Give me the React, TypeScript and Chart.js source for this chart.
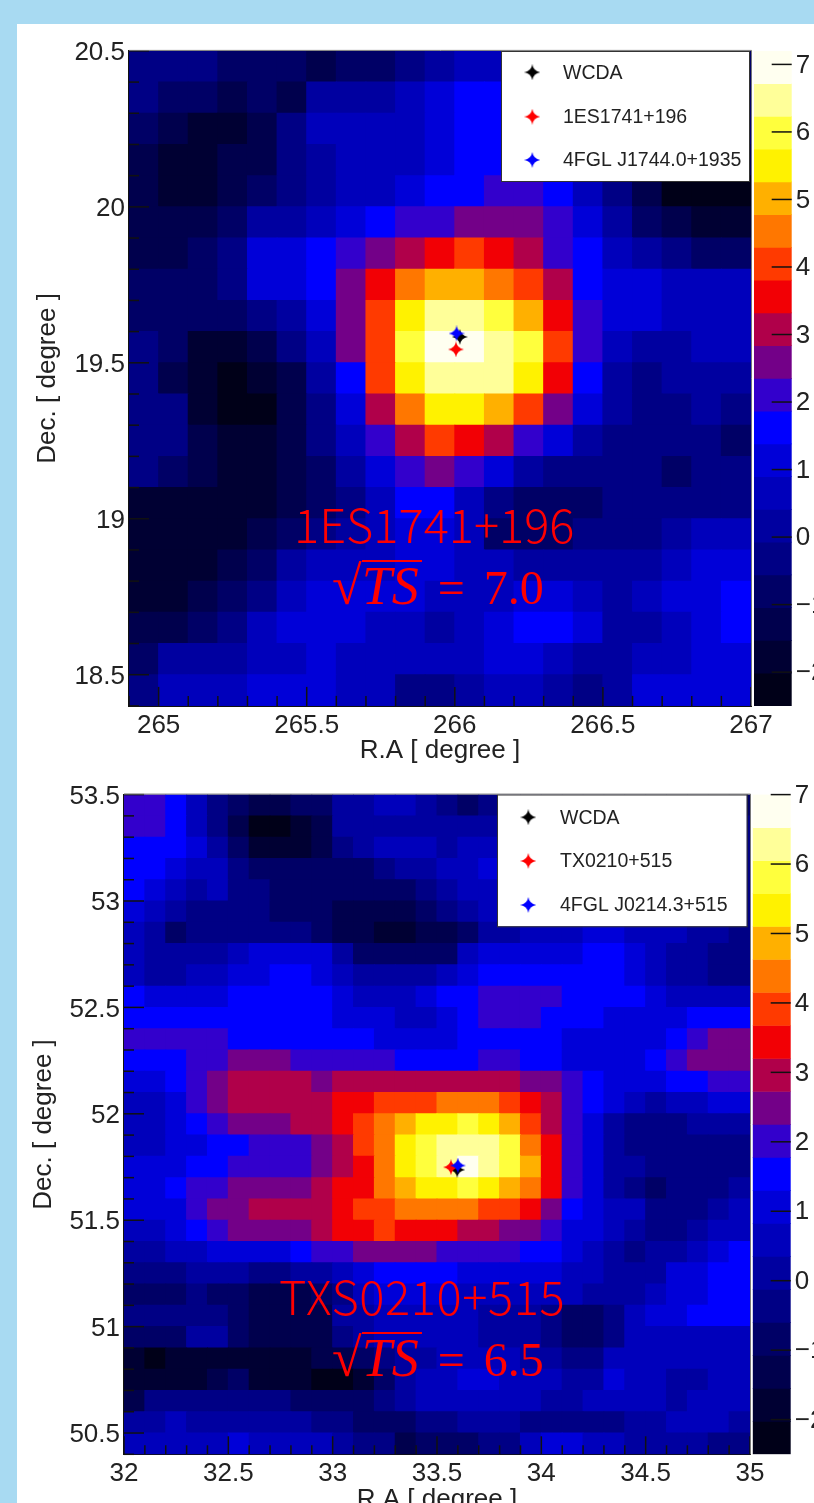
import React, { useEffect, useRef } from "react";
import { Chart, registerables } from "chart.js";

Chart.register(...registerables);

const levelColors = ["#000018","#000033","#00004d","#000066","#000085","#0000a0","#0000bb","#0000d8","#0000ff","#3300cc","#730088","#b0004a","#f20005","#ff3a00","#ff7700","#ffb000","#fff200","#ffff3d","#ffff99","#fffff0"];

// colour-bin index of every map cell, top row first, left column first
const upperBins = [
[4,4,4,3,3,3,2,3,3,4,5,6,6,6,5,5,4,4,4,3,3],
[4,3,3,2,3,2,5,5,5,6,7,8,8,7,6,5,4,4,3,3,3],
[3,2,1,1,2,4,6,6,6,6,7,8,8,7,6,5,4,4,3,3,3],
[2,1,1,2,2,4,5,6,6,6,7,8,8,8,7,6,4,3,2,2,2],
[2,1,1,2,3,4,5,6,6,7,8,8,9,9,8,6,4,2,0,0,0],
[2,2,2,3,5,5,6,7,8,9,9,10,10,10,9,7,5,3,2,1,1],
[2,2,3,4,7,7,8,9,10,11,12,13,12,11,9,8,6,5,4,3,3],
[3,3,3,4,7,7,8,10,12,14,15,15,14,13,11,8,7,7,6,6,6],
[3,3,3,3,4,5,7,10,13,16,18,18,17,15,12,9,7,7,6,6,6],
[4,3,1,1,2,4,6,10,13,17,19,19,18,17,13,9,6,5,5,6,6],
[4,2,1,0,1,2,5,8,13,16,18,18,18,16,12,8,5,4,5,5,5],
[4,4,1,0,0,2,4,7,11,14,16,16,15,13,10,7,5,4,4,5,4],
[4,4,2,1,1,2,4,6,9,11,13,12,11,9,7,5,4,4,4,4,3],
[4,3,2,1,1,2,3,5,7,9,10,9,7,5,4,4,4,4,3,4,4],
[1,1,1,1,1,2,3,4,6,8,8,6,4,3,3,3,4,4,4,4,4],
[1,1,1,1,2,3,4,5,6,7,7,6,3,3,3,4,4,4,5,6,6],
[1,1,1,2,3,5,6,6,6,7,7,6,6,5,5,5,5,5,6,7,7],
[1,1,2,3,4,6,7,7,7,7,6,6,6,7,7,6,5,6,7,7,8],
[2,2,3,4,6,7,7,7,6,6,5,6,7,8,8,7,5,5,6,7,8],
[3,5,5,5,6,6,7,6,6,6,6,6,7,7,6,5,5,6,6,7,7],
[4,6,6,6,7,7,7,6,6,4,4,5,6,6,5,4,5,7,7,7,7],
];

const lowerBins = [
[9,9,8,6,4,3,2,2,3,3,5,5,6,6,5,4,3,4,4,4,4,4,4,4,4,4,4,4,3,3],
[9,9,8,6,4,2,0,0,1,2,5,5,5,5,5,5,5,5,5,5,5,5,5,5,5,5,4,4,4,4],
[8,8,8,7,5,3,1,1,1,2,4,5,6,6,6,5,6,6,6,6,6,6,6,6,6,5,5,4,4,4],
[8,8,7,6,6,4,3,3,3,3,3,3,4,5,5,6,6,7,7,7,7,6,6,6,6,6,5,5,4,4],
[8,7,6,5,6,4,4,3,3,3,3,3,3,3,4,5,6,6,6,6,6,6,6,6,6,6,5,5,4,4],
[7,6,5,4,4,4,4,3,3,3,2,2,2,2,3,4,5,6,6,6,6,6,6,6,6,6,5,5,4,4],
[6,5,3,4,4,4,4,4,4,3,2,2,1,1,2,2,3,5,5,6,6,6,7,7,6,6,6,5,5,4],
[6,5,5,5,5,6,7,7,7,7,5,3,3,3,3,3,6,7,7,7,7,7,8,8,7,6,5,5,4,4],
[6,5,5,6,6,7,7,8,8,7,6,5,5,5,5,6,7,8,8,8,8,8,8,8,7,6,5,5,4,4],
[8,7,7,7,7,8,8,8,8,8,7,6,6,6,7,8,8,9,9,9,9,8,8,8,8,7,6,6,6,6],
[8,8,8,8,8,8,8,8,8,8,7,7,7,6,6,7,8,9,9,9,8,8,8,7,7,7,7,8,8,8],
[9,9,9,9,9,8,8,8,8,8,8,8,7,7,7,7,8,8,8,8,8,7,7,7,7,7,8,9,10,10],
[8,8,8,9,9,10,10,10,9,9,9,9,9,8,8,8,8,9,9,8,8,7,7,7,7,8,9,10,10,10],
[7,7,8,9,10,11,11,11,11,10,11,11,11,11,11,11,11,11,11,10,10,9,8,7,7,7,8,8,9,9],
[6,6,7,9,10,11,11,11,11,11,12,12,13,13,13,14,14,14,13,12,11,9,8,7,6,5,6,6,7,7],
[6,6,7,8,9,10,10,10,11,11,12,13,14,15,16,16,17,16,15,13,11,9,7,5,4,4,4,5,5,5],
[6,6,7,7,8,8,9,9,9,10,11,13,14,16,17,18,18,18,17,14,12,9,7,5,4,4,4,4,4,4],
[7,7,7,8,8,9,9,9,9,10,11,12,14,16,17,18,19,18,17,15,12,9,7,5,5,4,4,4,4,4],
[7,7,8,9,9,10,10,10,10,11,12,12,14,15,16,16,17,16,15,14,12,9,7,5,4,3,4,4,4,5],
[7,7,7,9,10,10,11,11,11,11,12,13,13,14,14,14,14,13,13,12,10,8,7,6,6,4,4,4,5,6],
[6,6,7,8,9,10,10,10,10,11,12,12,13,12,12,12,11,11,10,10,9,7,7,6,5,4,4,5,6,6],
[5,5,6,6,7,7,7,7,8,9,9,10,10,10,10,9,9,9,9,8,8,7,6,5,4,5,5,6,7,8],
[4,4,4,5,5,5,4,4,5,5,6,7,8,8,8,8,7,7,7,7,7,6,6,5,5,5,7,7,8,8],
[3,3,3,4,3,3,2,2,2,3,4,6,7,7,7,7,6,6,6,6,6,6,5,5,5,6,7,7,8,8],
[4,4,4,4,4,3,2,2,2,2,5,5,6,6,6,6,6,5,5,5,4,3,3,4,6,7,7,8,8,8],
[3,3,3,5,5,3,2,2,2,2,4,5,6,6,6,6,6,5,5,5,4,3,3,4,6,6,6,6,6,6],
[1,0,1,1,1,1,1,1,1,2,2,3,4,5,5,6,6,6,6,5,5,4,4,6,6,6,6,6,6,6],
[1,1,1,1,2,3,1,1,1,0,0,1,3,5,6,6,7,7,6,6,6,5,5,7,6,6,5,5,6,6],
[2,4,4,4,4,4,4,4,3,3,3,3,4,5,6,6,6,6,6,6,5,5,6,6,6,6,5,6,6,6],
[5,5,6,5,5,5,5,5,5,4,4,3,3,3,4,4,5,5,5,4,4,4,4,4,5,5,6,6,6,5],
[6,6,6,6,6,7,6,6,6,6,5,4,4,2,3,3,3,4,4,6,7,7,6,6,5,5,5,5,4,4],
];

const upperRange = { xMin: 264.9, xMax: 267, yMin: 18.4, yMax: 20.5, zMin: -2.5, zMax: 7.2 };
const lowerRange = { xMin: 32, xMax: 35, yMin: 50.4, yMax: 53.5, zMin: -2.5, zMax: 7.0 };

const upperLegend = ["WCDA", "1ES1741+196", "4FGL J1744.0+1935"];
const lowerLegend = ["WCDA", "TX0210+515", "4FGL J0214.3+515"];
const upperStars = [[266.017, 19.583], [266.004, 19.543], [266.006, 19.594]];
const lowerStars = [[33.597, 51.737], [33.567, 51.749], [33.6, 51.757]];
const starColors = ["#000000", "#ff0000", "#0000ff"];

const FONT = '"Liberation Sans", Arial, sans-serif';
const INK = "#222222";

function makeStar(color: string) {
  const cv = document.createElement("canvas");
  cv.width = 16;
  cv.height = 16;
  const c = cv.getContext("2d")!;
  const m = 8, k = 1.1;
  c.fillStyle = color;
  c.beginPath();
  c.moveTo(m, 0);
  c.quadraticCurveTo(m + k, m - k, 16, m);
  c.quadraticCurveTo(m + k, m + k, m, 16);
  c.quadraticCurveTo(m - k, m + k, 0, m);
  c.quadraticCurveTo(m - k, m - k, m, 0);
  c.closePath();
  c.fill();
  return cv;
}

function drawInnerTicks(chart: any, axisId: string, side: string, major: number, minor: number) {
  const sc = chart.scales[axisId];
  const a = chart.chartArea;
  const c = chart.ctx;
  c.save();
  c.strokeStyle = "#111111";
  c.lineWidth = 1.5;
  sc.ticks.forEach((t: any) => {
    const p = sc.getPixelForValue(t.value);
    const len = t.label !== "" ? major : minor;
    c.beginPath();
    if (side === "left") { c.moveTo(a.left, p); c.lineTo(a.left + len, p); }
    if (side === "right") { c.moveTo(a.right, p); c.lineTo(a.right - len, p); }
    if (side === "bottom") { c.moveTo(p, a.bottom); c.lineTo(p, a.bottom - len); }
    c.stroke();
  });
  c.restore();
}

const halfLabel = (v: any) => {
  const n = Number(v);
  return Math.abs(n * 2 - Math.round(n * 2)) < 1e-6 ? String(Math.round(n * 2) / 2) : "";
};

type PanelGeo = {
  canvasTop: number; canvasH: number; left: number; right: number; top: number; bottom: number;
  barLeft: number; barRight: number; yTitlePad: number; xTitlePad: number;
  box: number[]; markX: number; textX: number; rowsY: number[]; major: number; minor: number; xMajor: number; xMinor: number;
};

function Panel({ bins, range, legend, stars, g }: { bins: number[][]; range: any; legend: string[]; stars: number[][]; g: PanelGeo }) {
  const mapRef = useRef<HTMLCanvasElement>(null);
  const barRef = useRef<HTMLCanvasElement>(null);
  useEffect(() => {
    const cells: any[] = [];
    const colors: string[] = [];
    bins.forEach((row, r) => row.forEach((b, c) => {
      cells.push({ x: range.xMin + (c + 0.5) * 0.1, y: [range.yMax - (r + 1) * 0.1, range.yMax - r * 0.1] });
      colors.push(levelColors[b]);
    }));
    const sprites = starColors.map(makeStar);
    const map = new Chart(mapRef.current!, {
      type: "bar",
      data: {
        datasets: [
          ...stars.map((s, i) => ({
            type: "scatter", label: legend[i], data: [{ x: s[0], y: s[1] }], order: 3 - i,
            pointStyle: sprites[i], pointRadius: 8, showLine: false,
          })),
          { label: "map", data: cells, backgroundColor: colors, borderWidth: 0, inflateAmount: 0.5, barPercentage: 1, categoryPercentage: 1, order: 9 },
        ],
      } as any,
      options: {
        responsive: false, animation: false, events: [],
        layout: { padding: { top: g.top - g.canvasTop, right: 814 - g.right, left: 0, bottom: 0 } },
        plugins: { legend: { display: false }, tooltip: { enabled: false } },
        scales: {
          x: {
            type: "linear", min: range.xMin, max: range.xMax, offset: false,
            grid: { display: true, offset: false, drawOnChartArea: false, drawTicks: false },
            border: { display: true, color: "#111111", width: 2 },
            ticks: { stepSize: 0.1, autoSkip: false, maxRotation: 0, padding: 4, color: INK, font: { family: FONT, size: 26 }, callback: halfLabel },
            title: { display: true, text: "R.A [ degree ]", color: INK, font: { family: FONT, size: 26 }, padding: { top: 0, bottom: g.xTitlePad } },
            afterFit: (s: any) => { s.height = g.canvasTop + g.canvasH - g.bottom; },
          },
          y: {
            type: "linear", min: range.yMin, max: range.yMax,
            grid: { display: true, drawOnChartArea: false, drawTicks: false },
            border: { display: true, color: "#111111", width: 2 },
            ticks: { stepSize: 0.1, autoSkip: false, padding: 4, labelOffset: 2, color: INK, font: { family: FONT, size: 26 }, callback: halfLabel },
            title: { display: true, text: "Dec. [ degree ]", color: INK, font: { family: FONT, size: 26 }, padding: { top: g.yTitlePad, bottom: 0 } },
            afterFit: (s: any) => { s.width = g.left; },
          },
        },
      } as any,
      plugins: [{
        id: "frame",
        afterDatasetsDraw(chart: any) {
          const a = chart.chartArea, c = chart.ctx;
          drawInnerTicks(chart, "y", "left", g.major, g.minor);
          drawInnerTicks(chart, "x", "bottom", g.xMajor, g.xMinor);
          c.save();
          c.strokeStyle = "#777777";
          c.lineWidth = 1;
          c.beginPath();
          c.moveTo(a.left, a.top - 0.5); c.lineTo(a.right + 0.5, a.top - 0.5); c.lineTo(a.right + 0.5, a.bottom);
          c.stroke();
          const oy = g.canvasTop;
          c.fillStyle = "#ffffff";
          c.strokeStyle = "#333333";
          c.lineWidth = 1;
          c.fillRect(g.box[0], g.box[1] - oy, g.box[2] - g.box[0], g.box[3] - g.box[1]);
          c.strokeRect(g.box[0] + 0.5, g.box[1] - oy + 0.5, g.box[2] - g.box[0], g.box[3] - g.box[1]);
          c.font = `19.5px ${FONT}`;
          c.fillStyle = INK;
          c.textBaseline = "middle";
          legend.forEach((t, i) => {
            c.drawImage(sprites[i], g.markX - 8, g.rowsY[i] - oy - 8);
            c.fillStyle = INK;
            c.fillText(t, g.textX, g.rowsY[i] - oy + 1);
          });
          c.restore();
        },
      }],
    });

    const steps = levelColors.length;
    const dz = (range.zMax - range.zMin) / steps;
    const levelBars = levelColors.map((_, i) => ({ x: "z", y: [range.zMin + i * dz, range.zMin + (i + 1) * dz] }));
    const bar = new Chart(barRef.current!, {
      type: "bar",
      data: { labels: ["z"], datasets: [{ data: levelBars, backgroundColor: levelColors, borderWidth: 0, barPercentage: 1, categoryPercentage: 1 }] } as any,
      options: {
        responsive: false, animation: false, events: [],
        layout: { padding: { top: g.top - g.canvasTop, left: g.barLeft - 750, bottom: g.canvasTop + g.canvasH - g.bottom, right: 0 } },
        plugins: { legend: { display: false }, tooltip: { enabled: false } },
        scales: {
          x: { display: false },
          y: {
            type: "linear", position: "right", min: range.zMin, max: range.zMax,
            grid: { display: true, drawOnChartArea: false, drawTicks: false },
            border: { display: false },
            ticks: { stepSize: 1, includeBounds: false, autoSkip: false, padding: 4, labelOffset: 1, color: INK, font: { family: FONT, size: 26 },
              callback: (v: any) => String(v).replace("-", "\u2212") },
            afterFit: (s: any) => { s.width = 814 - g.barRight; },
          },
        },
      } as any,
      plugins: [{
        id: "barTicks",
        afterDatasetsDraw(chart: any) { drawInnerTicks(chart, "y", "right", 20, 20); },
      }],
    });
    return () => { map.destroy(); bar.destroy(); };
  }, []);
  return (
    <>
      <canvas ref={mapRef} width={814} height={g.canvasH} style={{ position: "absolute", left: 0, top: g.canvasTop, width: 814, height: g.canvasH }} />
      <canvas ref={barRef} width={64} height={g.canvasH} style={{ position: "absolute", left: 750, top: g.canvasTop, width: 64, height: g.canvasH }} />
    </>
  );
}

const upperGeo: PanelGeo = { canvasTop: 26, canvasH: 740, left: 129, right: 751, top: 50.9, bottom: 705.9, barLeft: 754, barRight: 791.7, yTitlePad: 32, xTitlePad: 0,
  box: [501, 51, 749, 181], markX: 532.3, textX: 563, rowsY: [72.3, 116.7, 160], major: 20, minor: 10, xMajor: 19, xMinor: 10 };
const lowerGeo: PanelGeo = { canvasTop: 770, canvasH: 745, left: 124, right: 750, top: 794.6, bottom: 1454.3, barLeft: 752.7, barRight: 790.7, yTitlePad: 28, xTitlePad: 0,
  box: [497, 794.5, 746.7, 926.3], markX: 528.3, textX: 560, rowsY: [817.3, 861, 905], major: 20, minor: 10, xMajor: 18, xMinor: 9 };

function Note({ name, value, x, nameBase, x2, valueBase, spread }: { name: string; value: string; x: number; nameBase: number; x2: number; valueBase: number; spread: number }) {
  const common: React.CSSProperties = { position: "absolute", color: "#ff0000", whiteSpace: "pre", lineHeight: "60px", height: 60 };
  return (
    <>
      <div style={{ ...common, left: x, top: nameBase - 50, fontFamily: '"Noto Sans CJK SC", "Noto Sans"', fontWeight: 300, fontSize: 47, letterSpacing: spread }}>{name}</div>
      <div style={{ ...common, left: x2, top: valueBase - 49, fontFamily: '"Liberation Serif", serif', fontSize: 48 }}>
        <span style={{ fontSize: 54 }}>{"\u221A"}</span>
        <span style={{ position: "relative", fontStyle: "italic", fontSize: 54 }}>
          TS
          <span style={{ position: "absolute", left: 0, right: -3, top: 4, height: 2, background: "#ff0000" }} />
        </span>
        <span style={{ marginLeft: 19 }}>=</span>
        <span style={{ marginLeft: 19 }}>{value}</span>
      </div>
    </>
  );
}

export default function App() {
  return (
    <div style={{ position: "absolute", left: 0, top: 0, width: 814, height: 1503, overflow: "hidden", background: "#a8daf2" }}>
      <div style={{ position: "absolute", left: 17, top: 24, right: 0, bottom: 0, background: "#ffffff" }} />
      <Panel bins={upperBins} range={upperRange} legend={upperLegend} stars={upperStars} g={upperGeo} />
      <Panel bins={lowerBins} range={lowerRange} legend={lowerLegend} stars={lowerStars} g={lowerGeo} />
      <Note name="1ES1741+196" value="7.0" x={294} nameBase={543} x2={332} valueBase={605} spread={0} />
      <Note name="TXS0210+515" value="6.5" x={279} nameBase={1315} x2={332} valueBase={1377} spread={0.6} />
    </div>
  );
}
